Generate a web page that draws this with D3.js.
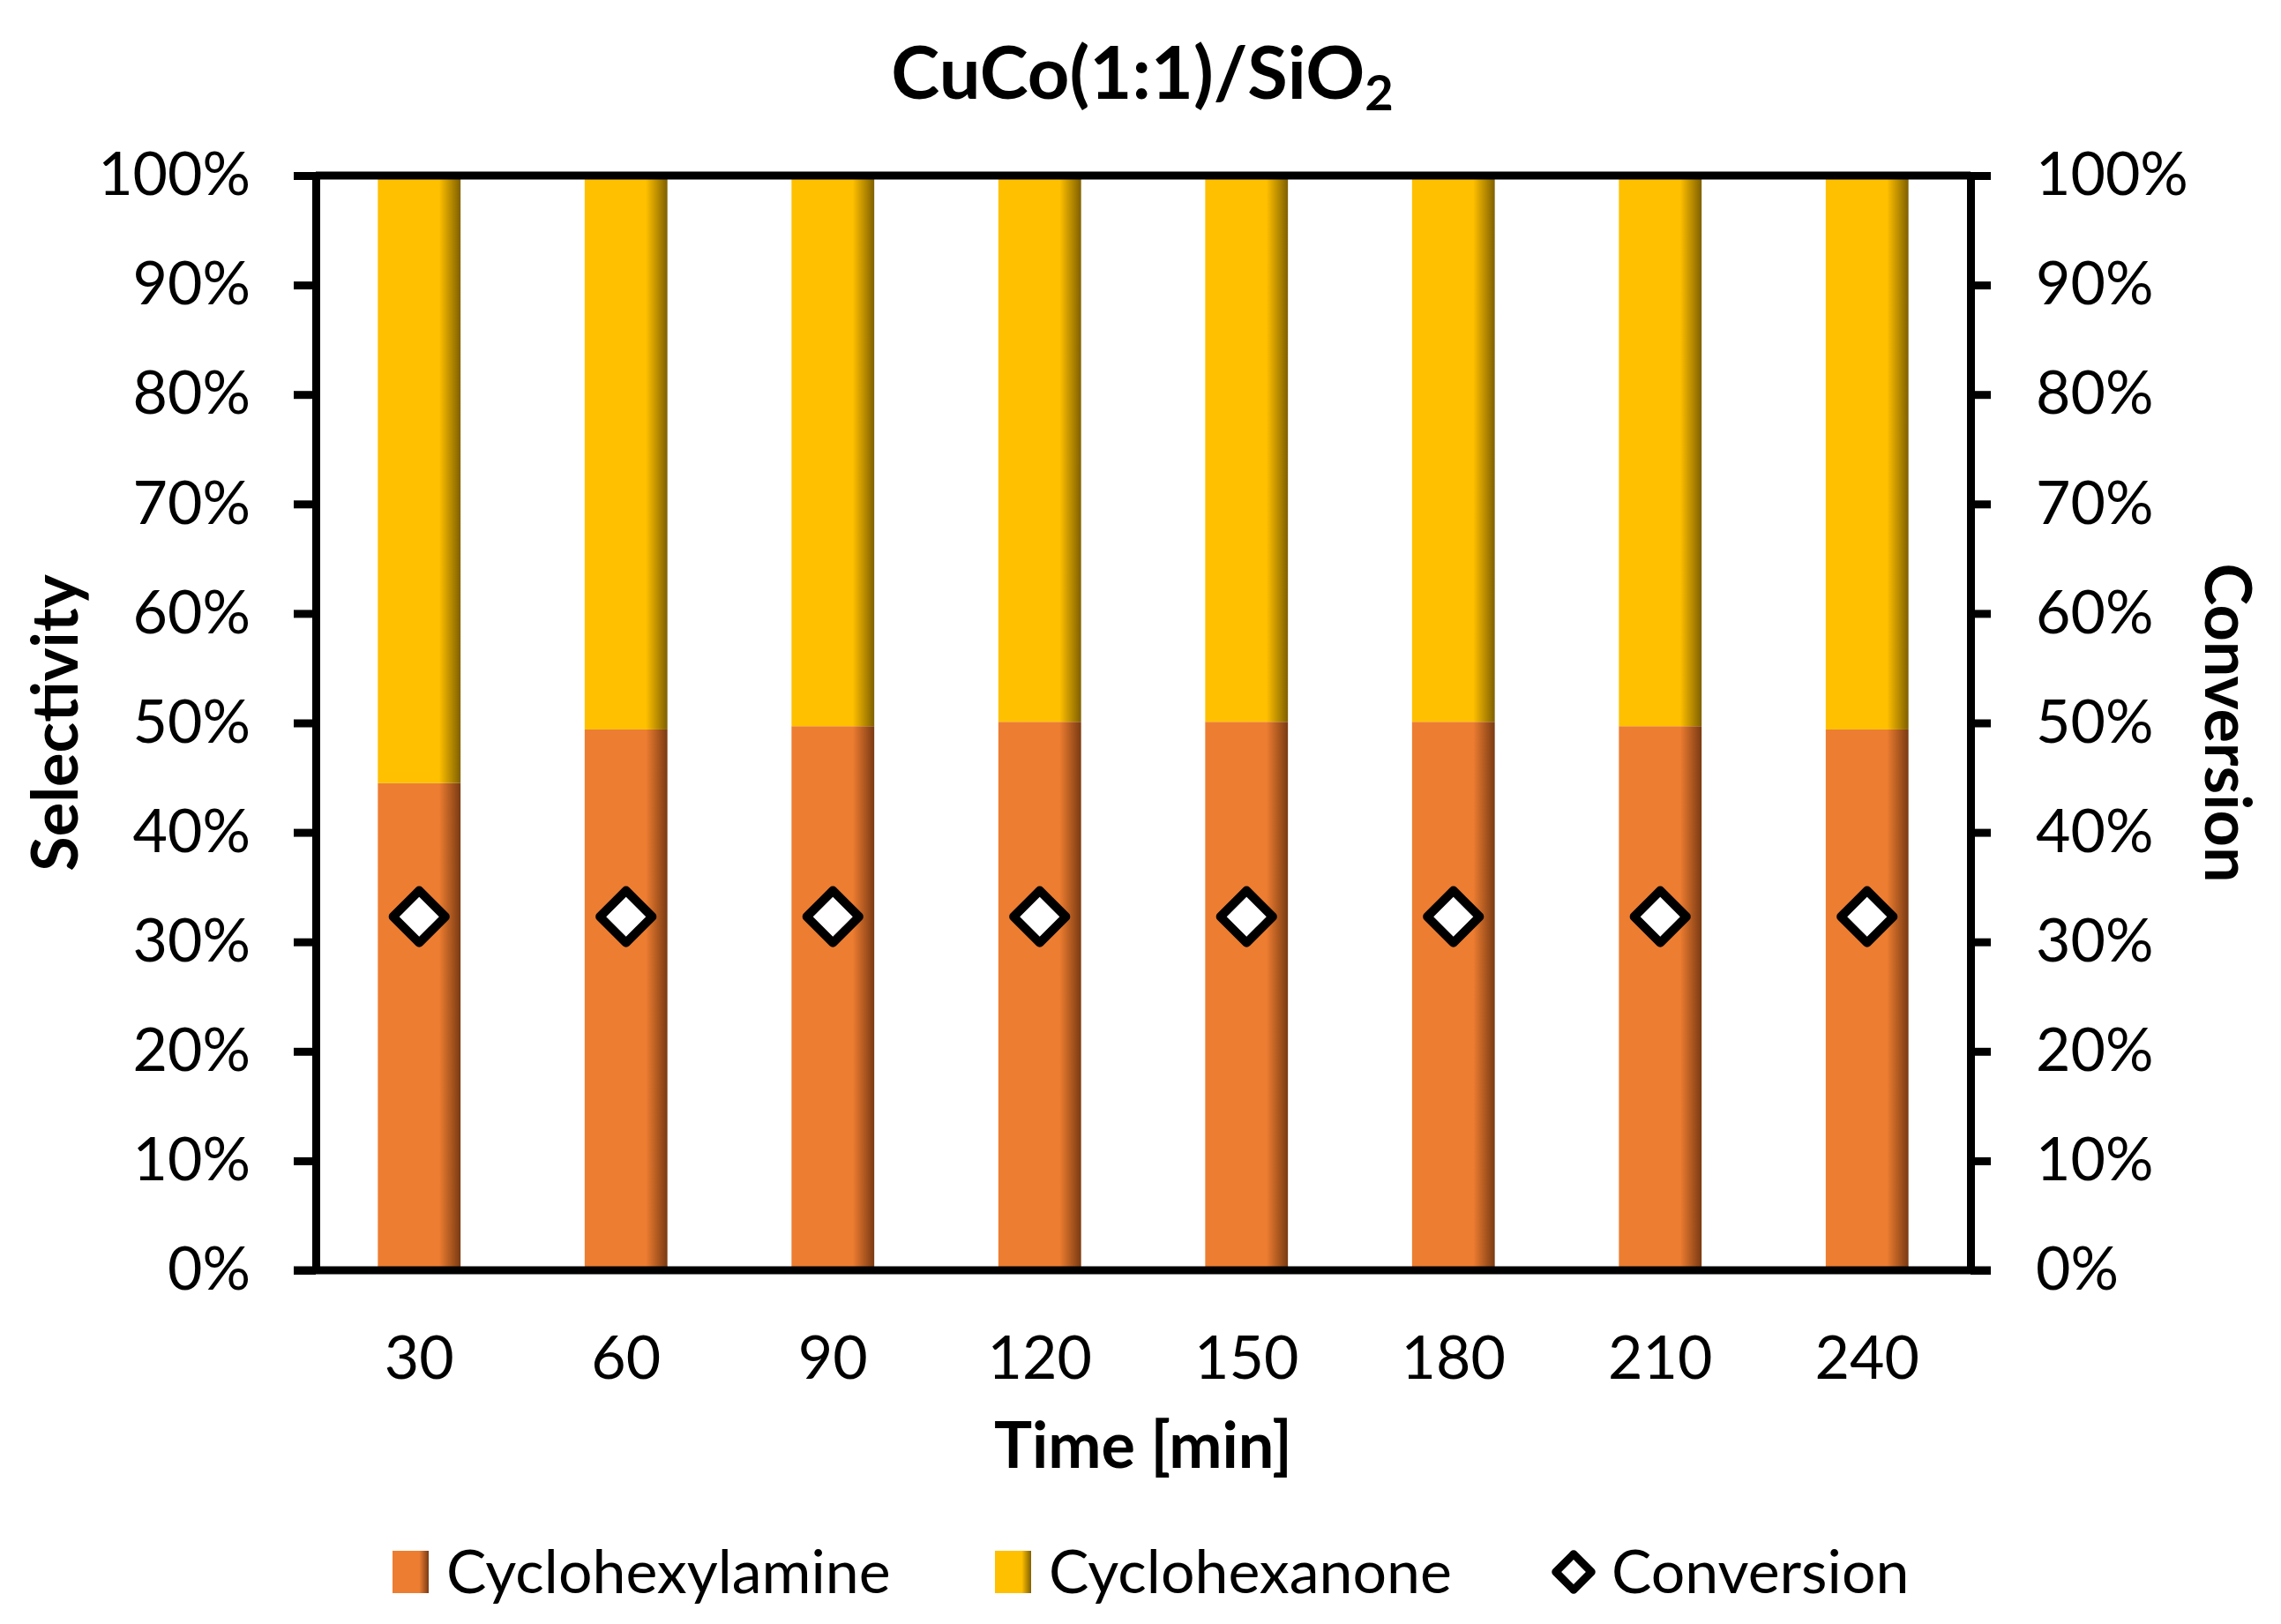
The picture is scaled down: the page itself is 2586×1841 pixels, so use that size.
<!DOCTYPE html>
<html>
<head>
<meta charset="utf-8">
<script src="https://cdn.jsdelivr.net/npm/d3@7"></script>
<style>
  body { margin: 0; background: #fff; }
  text { font-family: Lato, "Open Sans", sans-serif; fill: #000; }
</style>
</head>
<body>
<script>
// data
var times = ["30", "60", "90", "120", "150", "180", "210", "240"];
var amine = [44.5, 49.4, 49.7, 50.1, 50.1, 50.1, 49.7, 49.4];      // Cyclohexylamine selectivity %
var ketone = [55.5, 50.6, 50.3, 49.9, 49.9, 49.9, 50.3, 50.6];     // Cyclohexanone selectivity %
var conversion = [32.3, 32.3, 32.3, 32.3, 32.3, 32.3, 32.3, 32.3]; // conversion %
var yTicks = [0, 10, 20, 30, 40, 50, 60, 70, 80, 90, 100];
var seriesNames = ["Cyclohexylamine", "Cyclohexanone"];
var seriesColors = ["#ED7D31", "#FFC000"];
var seriesDark = ["#7a3a12", "#7f6000"];

var W = 2586, H = 1841;
var margin = {top: 199, right: 352, bottom: 401, left: 358};
var width = W - margin.left - margin.right;
var height = H - margin.top - margin.bottom;

var svg = d3.select("body").append("svg")
  .attr("width", W)
  .attr("height", H);

// gradients giving the shaded right edge of the bars
var defs = svg.append("defs");
seriesColors.forEach(function (c, i) {
  var g = defs.append("linearGradient")
    .attr("id", "grad" + i)
    .attr("x1", "0%").attr("x2", "100%").attr("y1", "0%").attr("y2", "0%");
  g.append("stop").attr("offset", "0%").attr("stop-color", c);
  g.append("stop").attr("offset", "74%").attr("stop-color", c);
  g.append("stop").attr("offset", "100%").attr("stop-color", seriesDark[i]);
});

var g = svg.append("g")
  .attr("transform", "translate(" + margin.left + "," + margin.top + ")");

var x = d3.scaleBand().domain(times).range([0, width]).paddingInner(0.6).paddingOuter(0.3);
var y = d3.scaleLinear().domain([0, 100]).range([height, 0]);
var y2 = d3.scaleLinear().domain([0, 100]).range([height, 0]);

// stacked bars
var rows = times.map(function (t, i) {
  return {time: t, Cyclohexylamine: amine[i], Cyclohexanone: ketone[i]};
});
var stack = d3.stack().keys(seriesNames)(rows);

g.selectAll("g.layer")
  .data(stack)
  .enter().append("g")
  .attr("class", "layer")
  .attr("fill", function (d, i) { return "url(#grad" + i + ")"; })
  .selectAll("rect")
  .data(function (d) { return d; })
  .enter().append("rect")
  .attr("x", function (d) { return x(d.data.time); })
  .attr("width", x.bandwidth())
  .attr("y", function (d) { return y(d[1]); })
  .attr("height", function (d) { return y(d[0]) - y(d[1]); });

// axes
var fmt = function (d) { return d + "%"; };

var left = g.append("g")
  .call(d3.axisLeft(y).tickValues(yTicks).tickFormat(fmt).tickSize(25).tickSizeOuter(0).tickPadding(49));
var right = g.append("g")
  .attr("transform", "translate(" + width + ",0)")
  .call(d3.axisRight(y2).tickValues(yTicks).tickFormat(fmt).tickSize(23).tickSizeOuter(0).tickPadding(51));
var bottom = g.append("g")
  .attr("transform", "translate(0," + height + ")")
  .call(d3.axisBottom(x).tickSize(0).tickPadding(75));

[left, right, bottom].forEach(function (a) {
  a.selectAll("path, line").attr("stroke", "#000").attr("stroke-width", 9);
  a.selectAll("text").style("font-size", "68px").attr("fill", "#000");
});
bottom.select("path").attr("d", "M-25,0H" + (width + 23));

// top frame line
g.append("line")
  .attr("x1", 0).attr("x2", width)
  .attr("y1", y(100)).attr("y2", y(100))
  .attr("stroke", "#000").attr("stroke-width", 9);

// conversion markers
var diamond = d3.symbol().type(d3.symbolSquare).size(1750);
g.selectAll("path.conv")
  .data(conversion)
  .enter().append("path")
  .attr("class", "conv")
  .attr("d", diamond)
  .attr("transform", function (d, i) {
    return "translate(" + (x(times[i]) + x.bandwidth() / 2) + "," + y2(d) + ") rotate(45)";
  })
  .attr("fill", "#fff")
  .attr("stroke", "#000")
  .attr("stroke-width", 10)
  .attr("stroke-linejoin", "round");

// titles
var title = svg.append("text")
  .attr("x", 1295).attr("y", 112)
  .attr("text-anchor", "middle")
  .style("font-size", "83px").style("font-weight", "bold");
title.append("tspan").text("CuCo(1:1)/SiO");
title.append("tspan").attr("dy", 13).style("font-size", "56px").text("2");

svg.append("text")
  .attr("transform", "translate(88," + (margin.top + height / 2) + ") rotate(-90)")
  .attr("text-anchor", "middle")
  .style("font-size", "72px").style("font-weight", "bold")
  .text("Selectivity");

svg.append("text")
  .attr("transform", "translate(2500," + (margin.top + height / 2) + ") rotate(90)")
  .attr("text-anchor", "middle")
  .style("font-size", "72px").style("font-weight", "bold")
  .text("Conversion");

svg.append("text")
  .attr("x", margin.left + width / 2).attr("y", 1664)
  .attr("text-anchor", "middle")
  .style("font-size", "72px").style("font-weight", "bold")
  .text("Time [min]");

// legend
var legendItems = [
  {name: "Cyclohexylamine", type: "bar", i: 0, x: 445},
  {name: "Cyclohexanone", type: "bar", i: 1, x: 1128},
  {name: "Conversion", type: "marker", x: 1761}
];
var legend = svg.append("g").attr("transform", "translate(0,1782)");
legendItems.forEach(function (d) {
  var item = legend.append("g").attr("transform", "translate(" + d.x + ",0)");
  if (d.type === "bar") {
    item.append("rect")
      .attr("x", 0).attr("y", -24).attr("width", 41).attr("height", 48)
      .attr("fill", "url(#grad" + d.i + ")");
  } else {
    item.append("path")
      .attr("d", d3.symbol().type(d3.symbolSquare).size(820))
      .attr("transform", "translate(23,0) rotate(45)")
      .attr("fill", "#fff").attr("stroke", "#000").attr("stroke-width", 9)
      .attr("stroke-linejoin", "round");
  }
  item.append("text")
    .attr("x", d.type === "bar" ? 61 : 66)
    .attr("y", 0).attr("dy", "0.36em")
    .style("font-size", "68px")
    .text(d.name);
});
</script>
</body>
</html>
